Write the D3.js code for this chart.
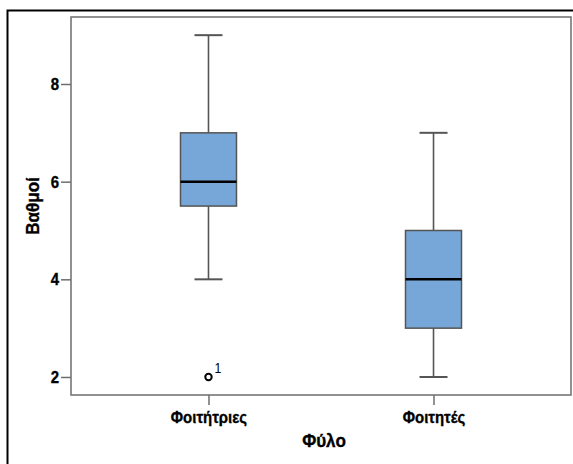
<!DOCTYPE html>
<html>
<head>
<meta charset="utf-8">
<script src="https://cdn.jsdelivr.net/npm/d3@7"></script>
<style>
  html, body { margin: 0; padding: 0; background: #fff; }
  svg { display: block; font-family: "Liberation Sans", Arial, sans-serif; }
</style>
</head>
<body>
<svg id="chart" width="573" height="464"></svg>
<script>
// Grade distribution by gender (box plot summary statistics)
const categories = ["Φοιτήτριες", "Φοιτητές"];
const minValues    = [4, 2];
const q1Values     = [5.5, 3];
const medianValues = [6, 4];
const q3Values     = [7, 5];
const maxValues    = [9, 7];
// outliers: [category index, value, case label]
const outliers = [[0, 2, "1"]];
const yTicks = [2, 4, 6, 8];
const yLabel = "Βαθμοί";
const xLabel = "Φύλο";

const svg = d3.select("#chart");
const plot = { left: 71, right: 571, top: 17, bottom: 395 };
const squeeze = 0.88; // narrow, tall label lettering

// outer frame
svg.append("rect")
  .attr("x", 7.5).attr("y", 10.5)
  .attr("width", 600).attr("height", 500)
  .attr("fill", "none").attr("stroke", "#000").attr("stroke-width", 2);

const x = d3.scalePoint()
  .domain(categories)
  .range([plot.left, plot.right])
  .padding(0.611);

const y = d3.scaleLinear()
  .domain([1.631, 9.372])
  .range([plot.bottom, plot.top]);

// plot area border
svg.append("rect")
  .attr("x", plot.left).attr("y", plot.top)
  .attr("width", plot.right - plot.left).attr("height", plot.bottom - plot.top)
  .attr("fill", "none").attr("stroke", "#6e6e6e").attr("stroke-width", 1.5);

function heavyText(sel) {
  sel.attr("fill", "#000").attr("stroke", "#000").attr("stroke-width", 0.35)
    .attr("font-weight", "bold")
    .attr("font-family", "'Liberation Sans', Arial, sans-serif");
}

// y axis
const yAxis = svg.append("g")
  .attr("transform", `translate(${plot.left},0)`)
  .call(d3.axisLeft(y).tickValues(yTicks).tickSize(10).tickPadding(2).tickFormat(d3.format("d")));
yAxis.select(".domain").remove();
yAxis.selectAll(".tick line").attr("stroke", "#6e6e6e").attr("stroke-width", 1.5);
yAxis.selectAll(".tick text")
  .attr("x", -12 / squeeze)
  .attr("transform", `scale(${squeeze},1)`)
  .attr("font-size", 17)
  .call(heavyText);

// x axis
const xAxis = svg.append("g")
  .attr("transform", `translate(0,${plot.bottom})`)
  .call(d3.axisBottom(x).tickSize(10).tickPadding(6));
xAxis.select(".domain").remove();
xAxis.selectAll(".tick line").attr("stroke", "#6e6e6e").attr("stroke-width", 1.5);
xAxis.selectAll(".tick text")
  .attr("transform", `scale(${squeeze},1)`)
  .attr("font-size", 17)
  .call(heavyText);

// axis titles
svg.append("text")
  .attr("transform", `translate(${(plot.left + plot.right) / 2 + 3},447) scale(0.9,1)`)
  .attr("text-anchor", "middle")
  .attr("font-size", 19)
  .call(heavyText)
  .text(xLabel);

svg.append("text")
  .attr("transform", `translate(39,${(plot.top + plot.bottom) / 2}) rotate(-90) scale(0.9,1)`)
  .attr("text-anchor", "middle")
  .attr("font-size", 19)
  .call(heavyText)
  .text(yLabel);

// boxes
const boxW = 56, capW = 28;
const stats = categories.map((c, i) => ({
  c, min: minValues[i], q1: q1Values[i], med: medianValues[i], q3: q3Values[i], max: maxValues[i]
}));

const g = svg.append("g").selectAll("g").data(stats).join("g");
const lineColor = "#555";

// whiskers
g.append("line")
  .attr("x1", d => x(d.c)).attr("x2", d => x(d.c))
  .attr("y1", d => y(d.max)).attr("y2", d => y(d.q3))
  .attr("stroke", lineColor).attr("stroke-width", 1.6);
g.append("line")
  .attr("x1", d => x(d.c)).attr("x2", d => x(d.c))
  .attr("y1", d => y(d.q1)).attr("y2", d => y(d.min))
  .attr("stroke", lineColor).attr("stroke-width", 1.6);
// caps
g.append("line")
  .attr("x1", d => x(d.c) - capW / 2).attr("x2", d => x(d.c) + capW / 2)
  .attr("y1", d => y(d.max)).attr("y2", d => y(d.max))
  .attr("stroke", lineColor).attr("stroke-width", 2);
g.append("line")
  .attr("x1", d => x(d.c) - capW / 2).attr("x2", d => x(d.c) + capW / 2)
  .attr("y1", d => y(d.min)).attr("y2", d => y(d.min))
  .attr("stroke", lineColor).attr("stroke-width", 2);
// box
g.append("rect")
  .attr("x", d => x(d.c) - boxW / 2)
  .attr("y", d => y(d.q3))
  .attr("width", boxW)
  .attr("height", d => y(d.q1) - y(d.q3))
  .attr("fill", "#77a6d8").attr("stroke", lineColor).attr("stroke-width", 1.5);
// median
g.append("line")
  .attr("x1", d => x(d.c) - boxW / 2).attr("x2", d => x(d.c) + boxW / 2)
  .attr("y1", d => y(d.med)).attr("y2", d => y(d.med))
  .attr("stroke", "#000").attr("stroke-width", 2.5);

// outliers
const og = svg.append("g").selectAll("g").data(outliers).join("g");
og.append("circle")
  .attr("cx", d => x(categories[d[0]]))
  .attr("cy", d => y(d[1]))
  .attr("r", 3.2)
  .attr("fill", "#fff").attr("stroke", "#000").attr("stroke-width", 2);
og.append("text")
  .attr("transform", d => `translate(${x(categories[d[0]]) + 6},${y(d[1]) - 4}) scale(${squeeze},1)`)
  .attr("font-size", 14)
  .attr("fill", "#000")
  .text(d => d[2]);
</script>
</body>
</html>
